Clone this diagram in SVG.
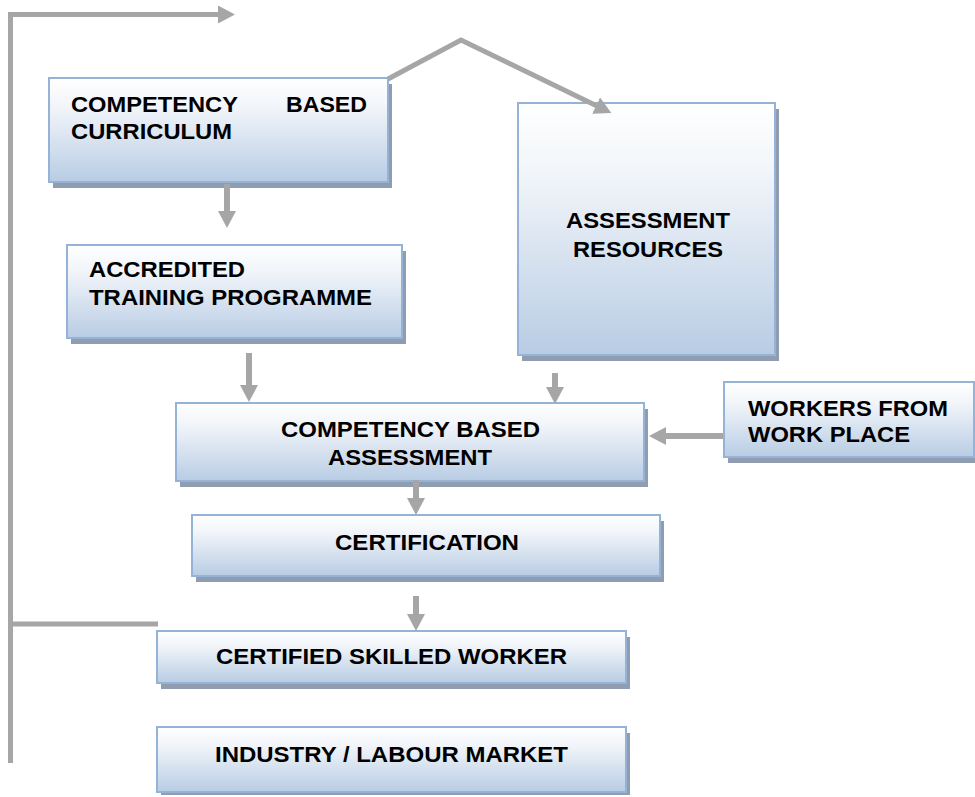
<svg xmlns="http://www.w3.org/2000/svg" width="975" height="797" viewBox="0 0 975 797">
<style>
.box{fill:url(#g);stroke:#95b3d7;stroke-width:2}
.sh{fill:#909db0}
.t{font-family:"Liberation Sans",Arial,sans-serif;font-weight:bold;font-size:22px;fill:#000}
.ln{fill:none;stroke:#a6a6a6;stroke-width:6}
.lp{fill:none;stroke:#a6a6a6;stroke-width:5}
</style>
<defs>
<linearGradient id="g" x1="0" y1="0" x2="0" y2="1">
<stop offset="0" stop-color="#ffffff"/>
<stop offset="0.3" stop-color="#f0f4f9"/>
<stop offset="1" stop-color="#b8cce4"/>
</linearGradient>
<marker id="ah" markerUnits="userSpaceOnUse" markerWidth="17" markerHeight="18" viewBox="0 0 17 18" refX="1" refY="9" orient="auto">
<path d="M0,0 L17,9 L0,18 z" fill="#a6a6a6"/>
</marker>
</defs>
<g id="curriculum">
<rect class="sh" x="53" y="84" width="339" height="104"/>
<rect class="box" x="49" y="78" width="339" height="104"/>
<text class="t"><tspan x="71" y="112" textLength="167" lengthAdjust="spacingAndGlyphs">COMPETENCY</tspan><tspan x="286" y="112" textLength="81" lengthAdjust="spacingAndGlyphs">BASED</tspan><tspan x="71" y="139" textLength="161" lengthAdjust="spacingAndGlyphs">CURRICULUM</tspan></text>
</g>
<g id="training">
<rect class="sh" x="71" y="251" width="335" height="93"/>
<rect class="box" x="67" y="245" width="335" height="93"/>
<text class="t"><tspan x="89" y="277" textLength="156" lengthAdjust="spacingAndGlyphs">ACCREDITED</tspan><tspan x="89" y="305" textLength="283" lengthAdjust="spacingAndGlyphs">TRAINING PROGRAMME</tspan></text>
</g>
<g id="resources">
<rect class="sh" x="522" y="109" width="257" height="252"/>
<rect class="box" x="518" y="103" width="257" height="252"/>
<text class="t"><tspan x="566" y="228" textLength="164" lengthAdjust="spacingAndGlyphs">ASSESSMENT</tspan><tspan x="573" y="257" textLength="150" lengthAdjust="spacingAndGlyphs">RESOURCES</tspan></text>
</g>
<g id="assessment">
<rect class="sh" x="180" y="409" width="468" height="78"/>
<rect class="box" x="176" y="403" width="468" height="78"/>
<text class="t"><tspan x="281" y="437" textLength="259" lengthAdjust="spacingAndGlyphs">COMPETENCY BASED</tspan><tspan x="328" y="465" textLength="164" lengthAdjust="spacingAndGlyphs">ASSESSMENT</tspan></text>
</g>
<g id="workers">
<rect class="sh" x="728" y="388" width="250" height="75"/>
<rect class="box" x="724" y="382" width="250" height="75"/>
<text class="t"><tspan x="748" y="416" textLength="200" lengthAdjust="spacingAndGlyphs">WORKERS FROM</tspan><tspan x="748" y="442" textLength="162" lengthAdjust="spacingAndGlyphs">WORK PLACE</tspan></text>
</g>
<g id="certification">
<rect class="sh" x="196" y="521" width="468" height="61"/>
<rect class="box" x="192" y="515" width="468" height="61"/>
<text class="t" x="335" y="550" textLength="184" lengthAdjust="spacingAndGlyphs">CERTIFICATION</text>
</g>
<g id="skilled">
<rect class="sh" x="161" y="637" width="469" height="52"/>
<rect class="box" x="157" y="631" width="469" height="52"/>
<text class="t" x="216" y="664" textLength="351" lengthAdjust="spacingAndGlyphs">CERTIFIED SKILLED WORKER</text>
</g>
<g id="industry">
<rect class="sh" x="161" y="733" width="469" height="62"/>
<rect class="box" x="157" y="727" width="469" height="65"/>
<text class="t" x="215" y="762" textLength="353" lengthAdjust="spacingAndGlyphs">INDUSTRY / LABOUR MARKET</text>
</g>
<g id="connectors">
<path class="lp" d="M10.5,763 V14.5 H219" marker-end="url(#ah)"/>
<path class="lp" d="M10.5,624 H158"/>
<path class="lp" d="M388,79 L461,40 L597,106" marker-end="url(#ah)"/>
<path class="ln" d="M227,184 V212" marker-end="url(#ah)"/>
<path class="ln" d="M249,353 V386" marker-end="url(#ah)"/>
<path class="ln" d="M555,373 V388" marker-end="url(#ah)"/>
<path class="ln" d="M416,480 V499" marker-end="url(#ah)"/>
<path class="ln" d="M416,596 V615" marker-end="url(#ah)"/>
<path class="ln" d="M723,436 H665" marker-end="url(#ah)"/>
</g>
</svg>
